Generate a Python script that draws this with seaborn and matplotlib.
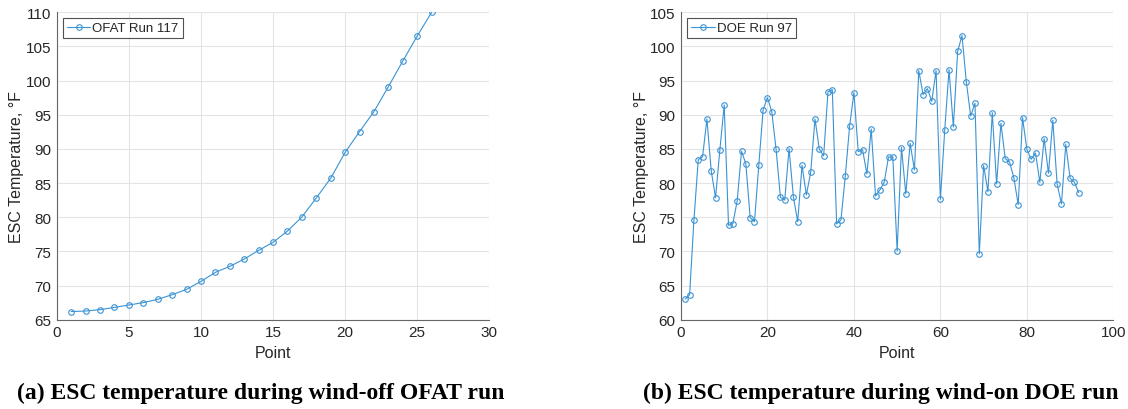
import matplotlib
matplotlib.use("Agg")
import matplotlib.pyplot as plt
import numpy as np
import pandas as pd
import seaborn as sns

# OFAT (wind-off) run: ESC temperature per test point
ofat_points = list(range(1, 27))
ofat_temp = [66.2, 66.27, 66.47, 66.8, 67.15, 67.5, 67.98, 68.66, 69.44, 70.6,
             71.93, 72.81, 73.88, 75.15, 76.32, 77.98, 80.03, 82.82, 85.7, 89.5,
             92.53, 95.46, 99.12, 102.87, 106.53, 110.0]

# DOE (wind-on) run: ESC temperature per test point
doe_points = list(range(1, 93))
doe_temp = [63.03, 63.66, 74.64, 83.43, 83.87, 89.38, 81.77, 77.86, 84.89, 91.43,
            73.81, 74.06, 77.38, 84.65, 82.84, 74.94, 74.35, 82.6, 90.75, 92.51,
            90.46, 84.94, 77.91, 77.52, 85.04, 77.96, 74.35, 82.6, 78.26, 81.57,
            89.38, 84.94, 83.97, 93.38, 93.68, 74.01, 74.6, 80.99, 88.31, 93.24,
            84.6, 84.89, 81.33, 87.92, 78.11, 78.99, 80.11, 83.82, 83.82, 70.06,
            85.2, 78.4, 85.82, 81.92, 96.46, 92.95, 93.82, 91.97, 96.46, 77.62,
            87.72, 96.61, 88.21, 99.29, 101.58, 94.8, 89.82, 91.68, 69.62, 82.55,
            78.74, 90.31, 79.87, 88.75, 83.58, 83.09, 80.74, 76.84, 89.58, 84.94,
            83.48, 84.4, 80.11, 86.5, 81.43, 89.19, 79.87, 76.94, 85.67, 80.7,
            80.11, 78.6]

ofat_xticks = [0, 5, 10, 15, 20, 25, 30]
ofat_yticks = [65, 70, 75, 80, 85, 90, 95, 100, 105, 110]
doe_xticks = [0, 20, 40, 60, 80, 100]
doe_yticks = [60, 65, 70, 75, 80, 85, 90, 95, 100, 105]

sns.set_style("white")
plt.rcParams["font.family"] = ["Liberation Sans", "DejaVu Sans"]

LINE = "#3a93d3"
SPINE = "#666666"
TEXT = "#262626"

fig = plt.figure(figsize=(11.28, 4.10), dpi=100)
ax1 = fig.add_axes([0.0503, 0.2178, 0.3835, 0.7498])
ax2 = fig.add_axes([0.6037, 0.2178, 0.3833, 0.7498])

panels = [
    (ax1, ofat_points, ofat_temp, "OFAT Run 117", ofat_xticks, ofat_yticks),
    (ax2, doe_points, doe_temp, "DOE Run 97", doe_xticks, doe_yticks),
]

for ax, xs, ys, label, xt, yt in panels:
    df = pd.DataFrame({"Point": xs, "Temp": ys})
    sns.lineplot(data=df, x="Point", y="Temp", ax=ax, color=LINE, lw=0.8,
                 marker="o", markersize=4, markerfacecolor="none",
                 markeredgecolor=LINE, markeredgewidth=0.8, label=label)
    ax.set_xlim(xt[0], xt[-1])
    ax.set_ylim(yt[0], yt[-1])
    ax.set_xticks(xt)
    ax.set_yticks(yt)
    ax.grid(True, color="#e4e4e4", linewidth=0.8)
    ax.set_axisbelow(True)
    for side in ("top", "right"):
        ax.spines[side].set_visible(False)
    for side in ("left", "bottom"):
        ax.spines[side].set_color(SPINE)
        ax.spines[side].set_linewidth(0.8)
    ax.tick_params(direction="in", length=4, width=0.8, color=SPINE,
                   labelsize=11, labelcolor=TEXT, pad=4)
    ax.set_xlabel("Point", fontsize=11.5, color=TEXT, labelpad=4)
    ax.set_ylabel("ESC Temperature, °F", fontsize=11.5, color=TEXT, labelpad=1)
    leg = ax.legend(loc="upper left", fontsize=9.5, frameon=True, fancybox=False,
                    handlelength=1.8, borderpad=0.3, handletextpad=0.15,
                    borderaxespad=0.45)
    leg.get_frame().set_edgecolor(TEXT)
    leg.get_frame().set_linewidth(0.8)
    for t in leg.get_texts():
        t.set_color(TEXT)

caption_font = dict(family=["Liberation Serif", "DejaVu Serif"], fontsize=17,
                    fontweight="bold", color="black", ha="center", va="center")
fig.text(261 / 1128, 1 - 393 / 410, "(a) ESC temperature during wind-off OFAT run",
         **caption_font)
fig.text(881 / 1128, 1 - 393 / 410, "(b) ESC temperature during wind-on DOE run",
         **caption_font)

fig.savefig("out.png", dpi=100)
